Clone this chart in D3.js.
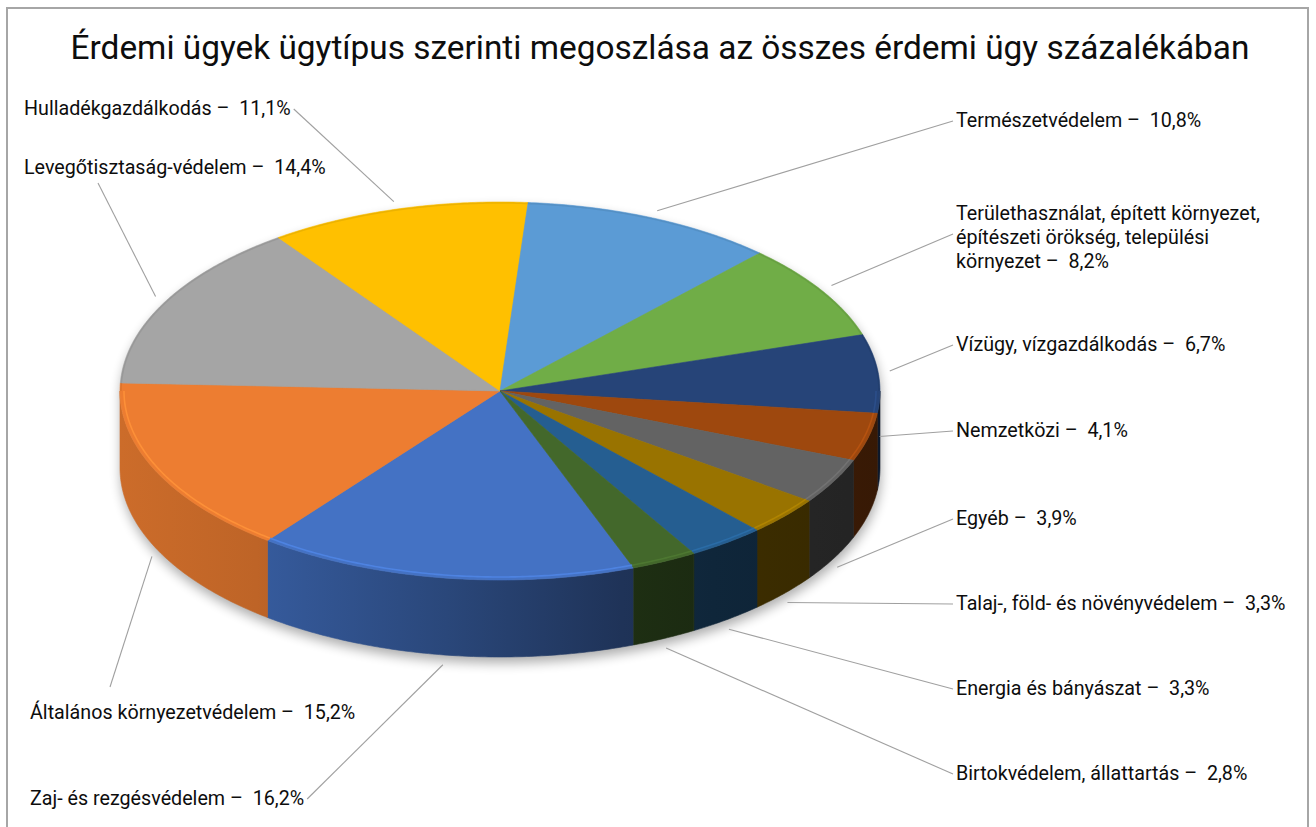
<!DOCTYPE html>
<html>
<head>
<meta charset="utf-8">
<script src="https://cdn.jsdelivr.net/npm/d3@7"></script>
<style>
  html, body { margin: 0; padding: 0; background: #ffffff; }
  svg { display: block; }
  text { font-family: Roboto, "Noto Sans", sans-serif; fill: #0d0d0d; }
</style>
</head>
<body>
<svg id="chart" width="1316" height="827"></svg>
<script>
// Case types, in the order the slices run clockwise
const categories = [
  "Zaj- és rezgésvédelem",
  "Általános környezetvédelem",
  "Levegőtisztaság-védelem",
  "Hulladékgazdálkodás",
  "Természetvédelem",
  "Területhasználat, épített környezet, építészeti örökség, települési környezet",
  "Vízügy, vízgazdálkodás",
  "Nemzetközi",
  "Egyéb",
  "Talaj-, föld- és növényvédelem",
  "Energia és bányászat",
  "Birtokvédelem, állattartás"
];
// Share of all substantive cases, percent
const shares = [16.2, 15.2, 14.4, 11.1, 10.8, 8.2, 6.7, 4.1, 3.9, 3.3, 3.3, 2.8];
const sliceColors = ["#4472C4", "#ED7D31", "#A5A5A5", "#FFC000", "#5B9BD5", "#70AD47",
                     "#264478", "#9E480E", "#636363", "#997300", "#255E91", "#43682B"];
const chartTitle = "Érdemi ügyek ügytípus szerinti megoszlása az összes érdemi ügy százalékában";

// Label placement: left edge / baseline of the first line, and where the leader joins the text
const labelLayout = [
  { x: 30,  y: 805, attach: "right" },
  { x: 30,  y: 719, attach: "top", ax: 80 },
  { x: 24,  y: 174, attach: "bottom", ax: 74 },
  { x: 24,  y: 115, attach: "right" },
  { x: 956, y: 127, attach: "left" },
  { x: 956, y: 220, attach: "left", wrap: 315, line: 24 },
  { x: 956, y: 351, attach: "left" },
  { x: 956, y: 437, attach: "left" },
  { x: 956, y: 525, attach: "left" },
  { x: 956, y: 610, attach: "left" },
  { x: 956, y: 695, attach: "left" },
  { x: 956, y: 780, attach: "left" }
];

const W = 1316, H = 827;
const cx = 500, cy = 391, rx = 380, ry = 189, depth = 77;
const firstSliceDeg = 159.4;
const labelFont = 19.7;

const svg = d3.select("#chart");
const defs = svg.append("defs");

// chart frame
svg.append("rect")
  .attr("x", 7).attr("y", 8).attr("width", 1301).attr("height", 860)
  .attr("fill", "#fff").attr("stroke", "#a6a6a6").attr("stroke-width", 2);

svg.append("text")
  .attr("x", 660).attr("y", 59)
  .attr("text-anchor", "middle")
  .style("font-size", "33.4px")
  .text(chartTitle);

const data = categories.map((c, i) => ({ name: c, value: shares[i], color: sliceColors[i] }));
const a0 = firstSliceDeg * Math.PI / 180;
const arcs = d3.pie().sort(null).value(d => d.value)
  .startAngle(a0).endAngle(a0 + 2 * Math.PI)(data);

// projected point on the tilted disc: angle clockwise from 12 o'clock, z = drop below top face
function pt(a, z = 0, k = 1, kx = rx, ky = ry) {
  return [cx + k * kx * Math.sin(a), cy - k * ky * Math.cos(a) + z];
}
function rim(s, e, z = 0, kx = rx, ky = ry) {
  const n = Math.max(2, Math.ceil(Math.abs(e - s) / 0.01));
  return d3.range(n + 1).map(i => pt(s + (e - s) * i / n, z, 1, kx, ky));
}
const line = d3.line();

// parts of [s, e] that lie on the near (front) or far (back) half of the disc
function halfParts(s, e, from) {
  const out = [];
  for (let k = -1; k <= 2; k++) {
    const lo = from + k * 2 * Math.PI, hi = from + Math.PI + k * 2 * Math.PI;
    const a = Math.max(s, lo), b = Math.min(e, hi);
    if (b > a) out.push([a, b]);
  }
  return out;
}
const frontParts = (s, e) => halfParts(s, e, Math.PI / 2);
const backParts = (s, e) => halfParts(s, e, -Math.PI / 2);

// soft drop shadow under the disc
const blur = defs.append("filter").attr("id", "shadowBlur")
  .attr("x", "-20%").attr("y", "-20%").attr("width", "140%").attr("height", "140%");
blur.append("feGaussianBlur").attr("stdDeviation", 6);
const outline = rim(-Math.PI / 2, Math.PI / 2, 0).concat(rim(Math.PI / 2, 3 * Math.PI / 2, depth));
svg.append("path")
  .attr("d", line(outline) + "Z")
  .attr("transform", "translate(1,6)")
  .attr("fill", "#000").attr("opacity", 0.32)
  .attr("filter", "url(#shadowBlur)");

// side wall shading: lit from the left, darkening to the right
const sideShade = [[0, 0.14], [0.18, 0.2], [0.43, 0.38], [0.66, 0.55], [0.78, 0.6], [1, 0.65]];
arcs.forEach((d, i) => {
  const g = defs.append("linearGradient").attr("id", "side" + i)
    .attr("gradientUnits", "userSpaceOnUse")
    .attr("x1", cx - rx).attr("x2", cx + rx).attr("y1", 0).attr("y2", 0);
  sideShade.forEach(([o, t]) => g.append("stop")
    .attr("offset", o).attr("stop-color", d3.interpolateRgb(d.data.color, "#000")(t)));
});

const sides = svg.append("g");
arcs.forEach((d, i) => {
  frontParts(d.startAngle, d.endAngle).forEach(([s, e]) => {
    const pts = rim(s, e, 0).concat(rim(e, s, depth));
    sides.append("path").attr("d", line(pts) + "Z")
      .attr("fill", `url(#side${i})`)
      .attr("stroke", `url(#side${i})`).attr("stroke-width", 0.6);
  });
});

// top faces
const tops = svg.append("g");
arcs.forEach(d => {
  const pts = [[cx, cy]].concat(rim(d.startAngle, d.endAngle, 0));
  tops.append("path").attr("d", line(pts) + "Z")
    .attr("fill", d.data.color)
    .attr("stroke", d.data.color).attr("stroke-width", 0.6);
});

// bevel: bright line just inside the near rim, faint dark line on the far rim
const bevel = svg.append("g").attr("fill", "none");
arcs.forEach(d => {
  frontParts(d.startAngle, d.endAngle).forEach(([s, e]) => {
    bevel.append("path").attr("d", line(rim(s, e, 0, rx - 4, ry - 3)))
      .attr("stroke", d3.color(d.data.color).brighter(0.45)).attr("stroke-width", 1.6)
      .attr("opacity", 0.85);
  });
  backParts(d.startAngle, d.endAngle).forEach(([s, e]) => {
    bevel.append("path").attr("d", line(rim(s, e, 0, rx - 1, ry - 1)))
      .attr("stroke", d3.color(d.data.color).darker(0.5)).attr("stroke-width", 1.5)
      .attr("opacity", 0.45);
  });
});

// labels and leader lines
const labels = svg.append("g").style("font-size", labelFont + "px");
const fmt = v => d3.format(".1f")(v).replace(".", ",");

arcs.forEach((d, i) => {
  const L = labelLayout[i];
  const text = `${d.data.name} \u2013  ${fmt(d.data.value)}%`;
  const g = labels.append("g").attr("transform", `translate(${L.x},${L.y})`);
  const t = g.append("text").attr("x", 0).attr("y", 0).attr("xml:space", "preserve");
  let width, nLines = 1;
  if (L.wrap) {
    const words = d.data.name.split(" ");
    words[words.length - 1] += ` \u2013  ${fmt(d.data.value)}%`;
    let cur = [];
    const lines = [];
    const probe = g.append("text").style("visibility", "hidden").attr("xml:space", "preserve");
    words.forEach(w => {
      probe.text(cur.concat([w]).join(" "));
      if (probe.node().getComputedTextLength() > L.wrap && cur.length) { lines.push(cur.join(" ")); cur = [w]; }
      else cur.push(w);
    });
    lines.push(cur.join(" "));
    probe.remove();
    lines.forEach((ln, j) => t.append("tspan").attr("x", 0).attr("dy", j ? L.line : 0).text(ln));
    nLines = lines.length;
    width = L.wrap;
  } else {
    t.text(text);
    width = t.node().getComputedTextLength();
  }

  // where the leader meets the label
  const midY = L.y - 6 + (nLines > 1 ? L.line * (nLines - 1) / 2 - 4 : 0);
  let p0;
  if (L.attach === "left") p0 = [L.x - 3, midY];
  else if (L.attach === "right") p0 = [L.x + width + 3, midY];
  else if (L.attach === "top") p0 = [L.x + L.ax, L.y - 32];
  else p0 = [L.x + L.ax, L.y + 9];

  // where the leader meets the slice: mid angle, top rim at the back, bottom rim at the front
  const mid = (d.startAngle + d.endAngle) / 2;
  const c = Math.cos(mid);
  const p1 = c > -0.3 ? pt(mid, -2, 1.03) : pt(mid, depth + 8, 1.01);

  svg.append("line")
    .attr("x1", p0[0]).attr("y1", p0[1]).attr("x2", p1[0]).attr("y2", p1[1])
    .attr("stroke", "#a0a0a0").attr("stroke-width", 1.1);
});
</script>
</body>
</html>
